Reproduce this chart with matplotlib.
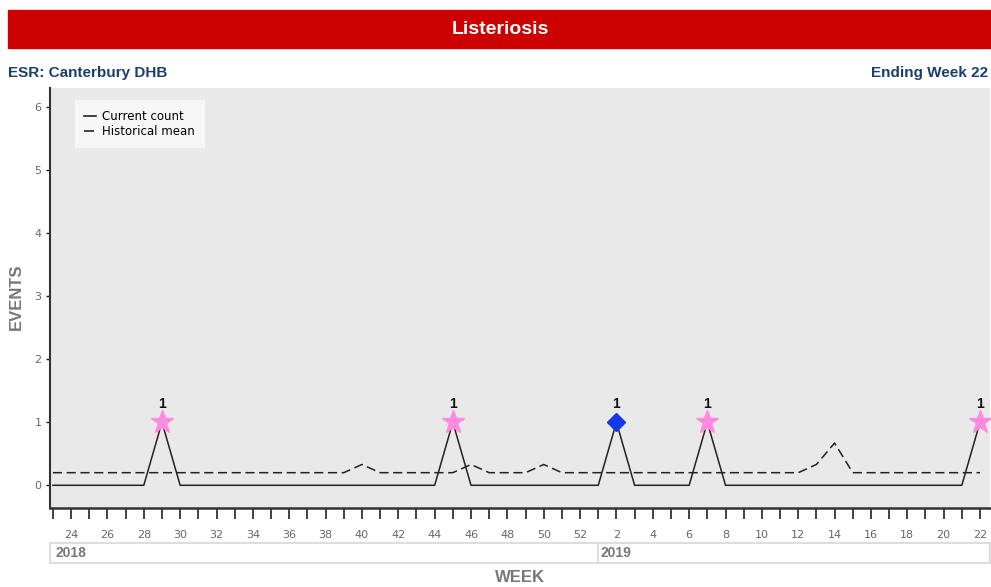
import numpy as np
import matplotlib.pyplot as plt
from matplotlib.patches import Rectangle

# weeks shown: 2018 wk 23 .. 2019 wk 22
weeks = list(range(23, 53)) + list(range(1, 23))
years = [2018] * 30 + [2019] * 22

current = [0, 0, 0, 0, 0, 0, 1, 0, 0, 0, 0, 0, 0, 0, 0, 0, 0, 0, 0, 0,
           0, 0, 1, 0, 0, 0, 0, 0, 0, 0,
           0, 1, 0, 0, 0, 0, 1, 0, 0, 0, 0, 0, 0, 0, 0, 0, 0, 0, 0, 0, 0, 1]
hist_mean = [0.2, 0.2, 0.2, 0.2, 0.2, 0.2, 0.2, 0.2, 0.2, 0.2, 0.2, 0.2, 0.2, 0.2, 0.2, 0.2, 0.2, 0.33, 0.2, 0.2,
             0.2, 0.2, 0.2, 0.33, 0.2, 0.2, 0.2, 0.33, 0.2, 0.2,
             0.2, 0.2, 0.2, 0.2, 0.2, 0.2, 0.2, 0.2, 0.2, 0.2, 0.2, 0.2, 0.33, 0.67, 0.2, 0.2, 0.2, 0.2, 0.2, 0.2, 0.2, 0.2]
# marker type per reported week: star = normal, diamond = flagged
star_weeks = [(2018, 29), (2018, 45), (2019, 7), (2019, 22)]
diamond_weeks = [(2019, 2)]

x = np.arange(len(weeks))
idx = {(y, w): i for i, (y, w) in enumerate(zip(years, weeks))}

fig = plt.figure(figsize=(9.91, 5.87), dpi=100)
plt.rcParams['font.family'] = 'DejaVu Sans'

# red title bar
fig.patches.append(Rectangle((8 / 991, 1 - 48 / 587), 982 / 991, 38 / 587,
                             transform=fig.transFigure, color='#CC0000', zorder=0))
fig.text(500 / 991, 1 - 29 / 587, 'Listeriosis', color='white', fontsize=14,
         fontweight='bold', family='Liberation Sans', ha='center', va='center')
fig.text(8 / 991, 1 - 73 / 587, 'ESR: Canterbury DHB', color='#1B3F6B', fontsize=11,
         fontweight='bold', family='Liberation Sans', ha='left', va='center')
fig.text(988 / 991, 1 - 73 / 587, 'Ending Week 22', color='#1B3F6B', fontsize=11,
         fontweight='bold', family='Liberation Sans', ha='right', va='center')

ax = fig.add_axes([50 / 991, 1 - 508 / 587, 940 / 991, 420 / 587])
ax.set_facecolor('#E9E9E9')
for s in ['top', 'right']:
    ax.spines[s].set_visible(False)
ax.spines['left'].set_color('#333333')
ax.spines['bottom'].set_color('#333333')
ax.spines['left'].set_linewidth(1.5)
ax.spines['bottom'].set_linewidth(1.8)

ax.plot(x, current, color='#222222', lw=1.1, label='Current count', zorder=3)
ax.plot(x, hist_mean, color='#222222', lw=1.1, ls=(0, (6, 3)), label='Historical mean', zorder=3)

sx = [idx[k] for k in star_weeks]
ax.plot(sx, [current[i] for i in sx], ls='none', marker='*', ms=17, color='#FF8ADF',
        mec='#FF8ADF', zorder=4)
dx = [idx[k] for k in diamond_weeks]
ax.plot(dx, [current[i] for i in dx], ls='none', marker='D', ms=9, color='#1438E8',
        mec='#1438E8', zorder=4)
for i in sx + dx:
    ax.annotate(str(current[i]), (x[i], current[i]), xytext=(0, 8), textcoords='offset points',
                ha='center', va='bottom', fontsize=10, fontweight='bold', color='#111111',
                family='Liberation Sans', zorder=5)

ax.set_xlim(-0.16, 51.55)
ax.set_ylim(-0.36, 6.3)
ax.set_yticks(range(0, 7))
ax.set_xticks(x)
ax.set_xticklabels([str(w) if w % 2 == 0 else '' for w in weeks])
ax.tick_params(axis='x', length=8, width=1.2, color='#222222', labelsize=8,
               labelcolor='#666666', pad=8)
ax.tick_params(axis='y', length=3, width=1, color='#222222', labelsize=8,
               labelcolor='#666666', pad=3)

leg = ax.legend(loc='upper left', bbox_to_anchor=(0.02, 0.985), fontsize=8.5, frameon=True,
                fancybox=False, handlelength=1.0, handletextpad=0.5, borderpad=0.8,
                labelspacing=0.2, facecolor='#F7F7F7', edgecolor='#F7F7F7', framealpha=1)
for h in leg.get_lines():
    h.set_linewidth(1.2)

# year band below axis
band_y0 = 1 - 563 / 587
band_h = 20 / 587
fig.patches.append(Rectangle((50 / 991, band_y0), 940 / 991, band_h, transform=fig.transFigure,
                             facecolor='white', edgecolor='#DDDDDD', lw=1.5, zorder=0))
split = ax.transData.transform((idx[(2019, 1)], 0))[0] / 991
fig.lines.append(plt.Line2D([split, split], [band_y0, band_y0 + band_h], transform=fig.transFigure,
                            color='#DDDDDD', lw=1.5))
fig.text(56 / 991, band_y0 + band_h / 2, '2018', fontsize=10, fontweight='bold', color='#777777',
         family='Liberation Sans', va='center', ha='left')
fig.text(split + 2 / 991, band_y0 + band_h / 2, '2019', fontsize=10, fontweight='bold',
         color='#777777', family='Liberation Sans', va='center', ha='left')

fig.text(520 / 991, 1 - 577 / 587, 'WEEK', fontsize=12, fontweight='bold', color='#777777',
         family='Liberation Sans', ha='center', va='center')
fig.text(16 / 991, 1 - 297 / 587, 'EVENTS', fontsize=12, fontweight='bold', color='#777777',
         family='Liberation Sans', ha='center', va='center', rotation=90)

fig.savefig('out.png', dpi=100)
